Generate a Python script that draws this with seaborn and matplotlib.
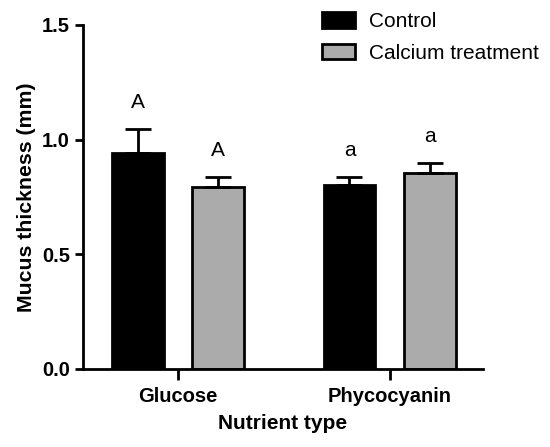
import matplotlib
matplotlib.use('Agg')
import matplotlib.pyplot as plt
import seaborn as sns
import pandas as pd
from matplotlib.patches import Patch

# data
nutrients = ['Glucose', 'Phycocyanin']
treatments = ['Control', 'Calcium treatment']
control_mean = [0.94, 0.80]
control_err = [0.105, 0.038]
calcium_mean = [0.795, 0.855]
calcium_err = [0.042, 0.042]
letters_control = ['A', 'a']
letters_calcium = ['A', 'a']

df = pd.DataFrame({
    'nutrient': nutrients * 2,
    'treatment': [treatments[0]] * 2 + [treatments[1]] * 2,
    'thickness': control_mean + calcium_mean,
    'err': control_err + calcium_err,
    'letter': letters_control + letters_calcium,
})

sns.set_style('ticks')
plt.rcParams['font.family'] = ['Liberation Sans', 'DejaVu Sans']
plt.rcParams['text.color'] = 'black'
plt.rcParams['axes.labelcolor'] = 'black'
plt.rcParams['xtick.color'] = 'black'
plt.rcParams['ytick.color'] = 'black'
plt.rcParams['axes.edgecolor'] = 'black'

fig = plt.figure(figsize=(5.5, 4.47), dpi=100)
ax = fig.add_axes([0.151, 0.1745, 0.727, 0.770])

colors = {'Control': '#000000', 'Calcium treatment': '#ababab'}
sns.barplot(data=df, x='nutrient', y='thickness', hue='treatment',
            palette=colors, width=0.76, gap=0.355, errorbar=None,
            edgecolor='black', linewidth=2, legend=False, ax=ax)

# error bars (upward only) and significance letters
for patch, (_, row) in zip(ax.patches, df.iterrows()):
    xc = patch.get_x() + patch.get_width() / 2
    top = patch.get_height()
    ax.errorbar(xc, top, yerr=[[0], [row['err']]], fmt='none',
                ecolor='black', elinewidth=2, capsize=9.5, capthick=2)
    ax.text(xc, top + row['err'] + 0.075, row['letter'], ha='center',
            va='bottom', fontsize=15)

ax.set_ylim(0, 1.5)
ax.set_xlim(-0.448, 1.44)
ax.set_yticks([0, 0.5, 1.0, 1.5])
ax.set_yticklabels(['0.0', '0.5', '1.0', '1.5'])
ax.set_xlabel('Nutrient type', fontsize=15, fontweight='bold', labelpad=6)
ax.set_ylabel('Mucus thickness (mm)', fontsize=15.3, fontweight='bold')
ax.tick_params(labelsize=14.5, width=2, length=6)
ax.tick_params(axis='x', length=8, pad=5)
for lab in ax.get_xticklabels() + ax.get_yticklabels():
    lab.set_fontweight('bold')
for s in ['left', 'bottom']:
    ax.spines[s].set_linewidth(2)
sns.despine(ax=ax)

handles = [Patch(facecolor=colors[t], edgecolor='black', linewidth=2, label=t)
           for t in treatments]
fig.legend(handles=handles, loc='upper left', bbox_to_anchor=(0.552, 1.015),
           frameon=False, fontsize=15, handlelength=1.55, handleheight=0.77,
           handletextpad=0.7, labelspacing=0.6)

fig.savefig('out.png', dpi=100)
